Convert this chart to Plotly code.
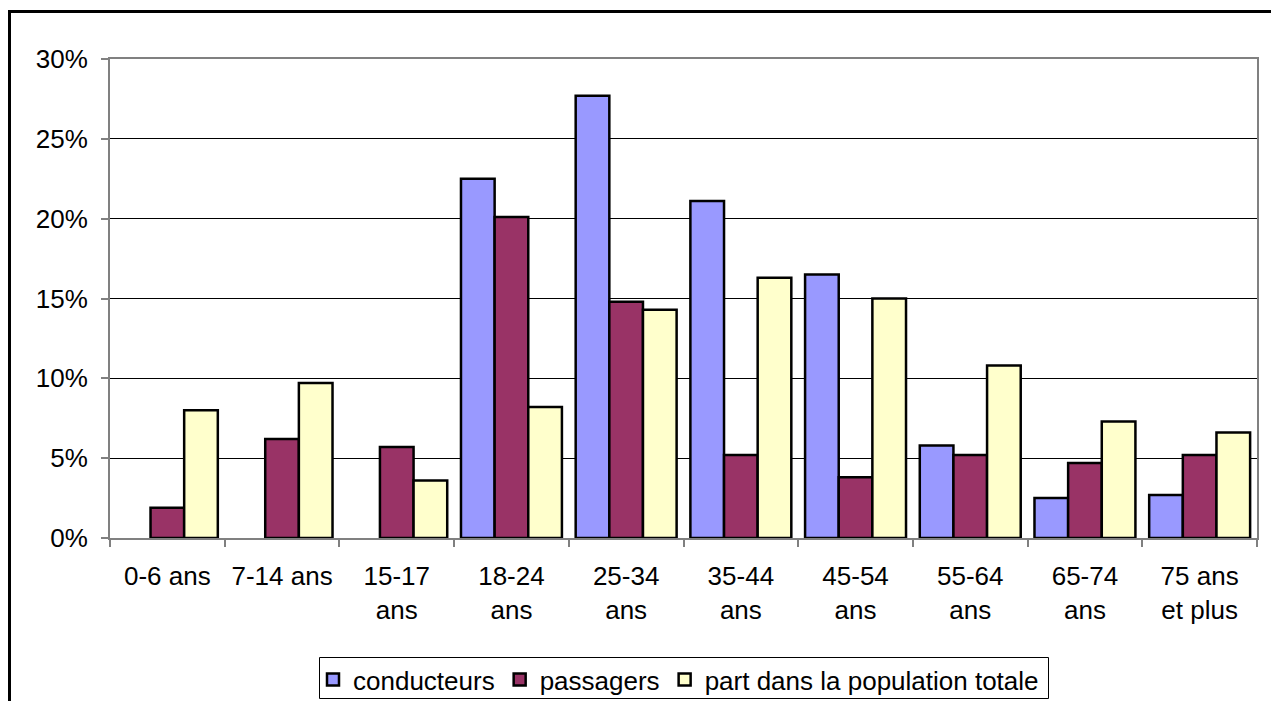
import plotly.graph_objects as go

categories = ["0-6 ans", "7-14 ans", "15-17<br>ans", "18-24<br>ans", "25-34<br>ans",
              "35-44<br>ans", "45-54<br>ans", "55-64<br>ans", "65-74<br>ans", "75 ans<br>et plus"]
conducteurs = [None, None, None, 22.5, 27.7, 21.1, 16.5, 5.8, 2.5, 2.7]
passagers = [1.9, 6.2, 5.7, 20.1, 14.8, 5.2, 3.8, 5.2, 4.7, 5.2]
population = [8.0, 9.7, 3.6, 8.2, 14.3, 16.3, 15.0, 10.8, 7.3, 6.6]
y_max = 30
y_step = 5

W, H = 1271, 701
L, R, T, B = 110, 1257, 59, 538
FONT = "Liberation Sans, Arial, sans-serif"

def px(x):
    return (x - L) / (R - L)

def py(y):
    return (B - y) / (B - T)

fig = go.Figure()
series = [("conducteurs", conducteurs, "#9999FF"),
          ("passagers", passagers, "#993366"),
          ("part dans la population totale", population, "#FFFFCC")]
for name, vals, col in series:
    fig.add_trace(go.Bar(x=categories, y=vals, name=name,
                         marker=dict(color=col, line=dict(color="black", width=2.5))))

fig.update_layout(
    width=W, height=H,
    margin=dict(l=L, r=W - R, t=T, b=H - B, autoexpand=False),
    paper_bgcolor="white", plot_bgcolor="white",
    font=dict(family=FONT, size=26, color="black"),
    barmode="group", bargap=0.12, bargroupgap=0,
    showlegend=True,
    legend=dict(orientation="h", x=px(313), xanchor="left", y=py(656), yanchor="top",
                borderwidth=0, bgcolor="rgba(0,0,0,0)", font=dict(size=26),
                itemclick=False, traceorder="normal"),
    xaxis=dict(type="category", tickson="boundaries", ticks="outside", ticklen=7,
               tickcolor="#808080", tickwidth=1.5, showline=True, linecolor="#808080",
               linewidth=2, mirror=True, showgrid=False, ticklabelstandoff=14,
               tickfont=dict(size=26)),
    yaxis=dict(range=[0, y_max], tick0=0, dtick=y_step, ticksuffix="%",
               showticksuffix="all", ticks="outside",
               ticklen=7, tickcolor="#808080", tickwidth=1.5, showline=True,
               linecolor="#808080", linewidth=2, mirror=True, showgrid=True,
               gridcolor="black", gridwidth=1, zeroline=False, ticklabelstandoff=8,
               tickfont=dict(size=26)),
    shapes=[
        dict(type="path", xref="paper", yref="paper",
             path=f"M {px(9.5)},{py(720)} L {px(9.5)},{py(11.5)} L {px(1290)},{py(11.5)}",
             line=dict(color="black", width=3), layer="above"),
        dict(type="rect", xref="paper", yref="paper",
             x0=px(319.5), x1=px(1048.5), y0=py(698.5), y1=py(657.5),
             line=dict(color="black", width=1), fillcolor="rgba(0,0,0,0)", layer="above"),
    ],
)

fig.write_html("out.html", config={"displayModeBar": False},
               post_script="document.body.style.margin='0';document.body.style.overflow='hidden';")
